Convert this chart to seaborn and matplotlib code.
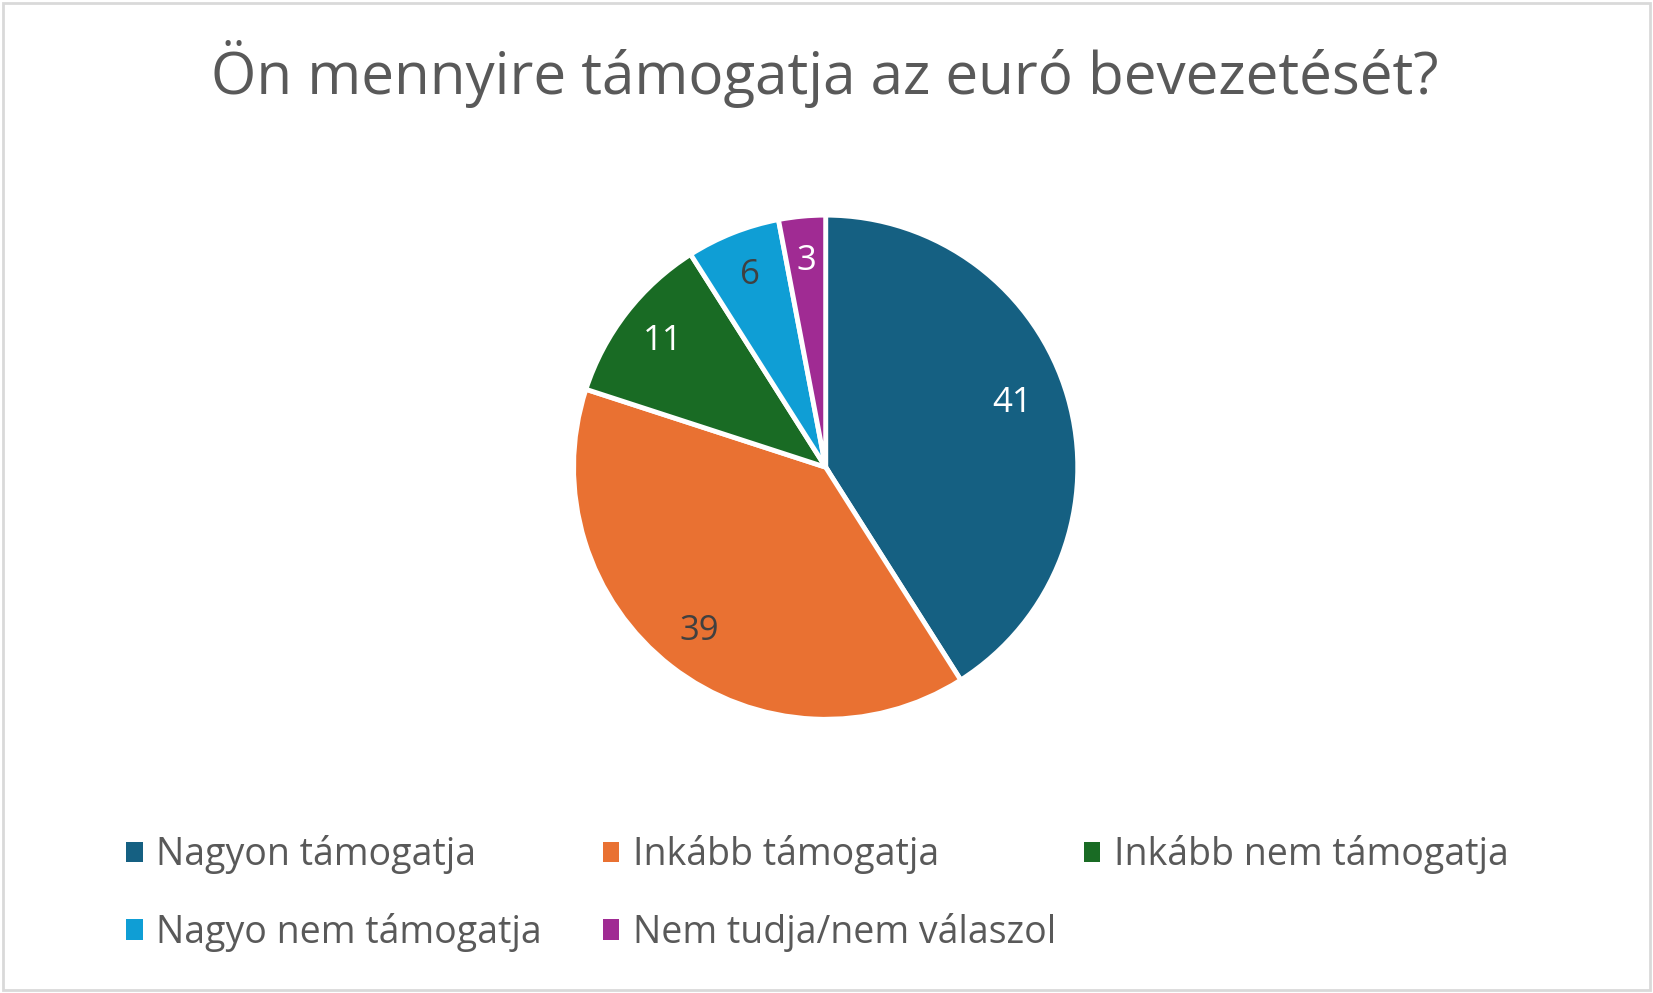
import matplotlib
matplotlib.use("Agg")
import matplotlib.pyplot as plt
import seaborn as sns
from matplotlib.patches import Patch

# -- adatok
categories = ["Nagyon támogatja", "Inkább támogatja", "Inkább nem támogatja",
              "Nagyo nem támogatja", "Nem tudja/nem válaszol"]
values = [41, 39, 11, 6, 3]
colors = ["#156082", "#E97132", "#196B24", "#0F9ED5", "#A02B93"]
label_colors = ["white", "#404040", "white", "#404040", "white"]
title = "Ön mennyire támogatja az euró bevezetését?"

sns.set_theme(style="white")
plt.rcParams['font.family'] = ['Open Sans', 'DejaVu Sans']
text_gray = "#595959"

fig = plt.figure(figsize=(16.53, 9.93), dpi=100)
w, h = 0.305, 0.508
ax = fig.add_axes([0.4995 - w / 2, 0.5295 - h / 2, w, h])

wedges, texts, autotexts = ax.pie(
    values, colors=colors, startangle=90, counterclock=False,
    autopct=lambda p: f"{p:.0f}", pctdistance=0.82,
    wedgeprops=dict(edgecolor="white", linewidth=3.5),
    textprops=dict(fontsize=25))
for t, c in zip(autotexts, label_colors):
    t.set_color(c)
# a nagy szelet cimkeje kicsit beljebb van
x0, y0 = autotexts[0].get_position()
autotexts[0].set_position((x0 * 0.77 / 0.82, y0 * 0.8 / 0.82 + 0.03))
ax.set_xlim(-1.0, 1.0)
ax.set_ylim(-1.0, 1.0)
ax.set_aspect("equal")

fig.text(0.499, 0.925, title, ha="center", va="center", fontsize=42, color=text_gray)

# -- jelmagyarazat: 3 oszlop, soronkent toltve, egyenlo oszlopszelesseg
col_x = [0.0765, 0.3645, 0.6555]
row_y = [0.139, 0.061]
for i, (name, c) in enumerate(zip(categories, colors)):
    fig.legend([Patch(facecolor=c, edgecolor="none")], [name], loc="center left",
               bbox_to_anchor=(col_x[i % 3], row_y[i // 3]), frameon=False,
               fontsize=27, labelcolor=text_gray, borderpad=0, borderaxespad=0,
               handlelength=0.45, handleheight=0.45, handletextpad=0.35)

# -- keret
fig.patches.append(plt.Rectangle((0.002, 0.003), 0.996, 0.994, transform=fig.transFigure,
                                 fill=False, edgecolor="#D9D9D9", linewidth=2))

fig.savefig("out.png", dpi=100)
